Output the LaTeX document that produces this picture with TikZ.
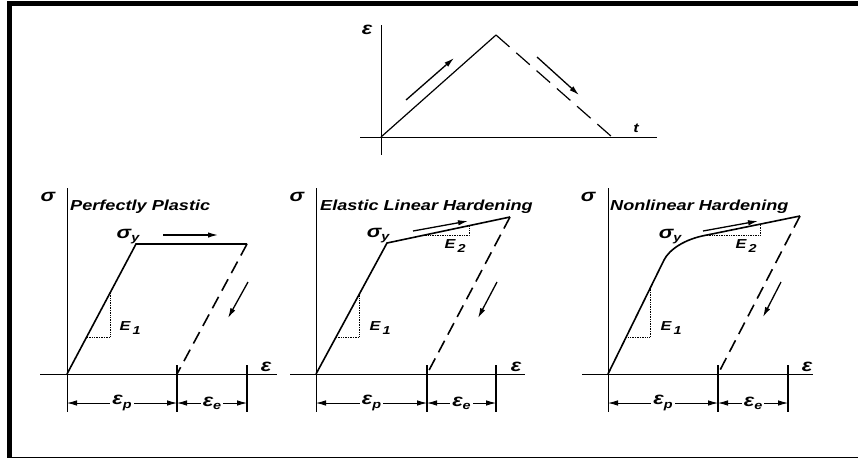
\documentclass[tikz,border=0pt]{standalone}
\usepackage{fontspec}
\setmainfont{Liberation Sans}
\newfontfamily\lblfont[FakeStretch=1.25]{Liberation Sans}
\usetikzlibrary{arrows.meta}

\newcommand\lowsub[1]{\raisebox{-0.45ex}{\fontsize{11.5}{11.5}\selectfont #1}}
\newcommand\gk[1]{{\fontsize{17.5}{17.5}\selectfont #1}}

\begin{document}
\begin{tikzpicture}[x=1pt, y=-1pt, >={Latex[length=10pt,width=5.5pt]},
  lbl/.style={font=\lblfont\bfseries\itshape\fontsize{13}{13}\selectfont, inner sep=0pt},
  ttl/.style={font=\lblfont\bfseries\itshape\fontsize{14.5}{14.5}\selectfont, inner sep=0pt, anchor=west},
  axisline/.style={line width=0.9pt},
  loadline/.style={line width=1.6pt},
  unload/.style={line width=1.6pt, dash pattern=on 13pt off 7pt},
  slope/.style={densely dotted, line width=0.7pt},
  dimtick/.style={line width=1.6pt},
  dimline/.style={<->, line width=0.8pt},
  dirarrow/.style={->, line width=1.3pt}]
  \useasboundingbox (0,0) rectangle (858,459);

  % Frame
  \fill (7,1) rectangle (858,6);
  \fill (7,1) rectangle (12,458);
  \fill (7,456.5) rectangle (858,458);

  % Top: strain history
  \coordinate (hO) at (381,137);
  \coordinate (hP) at (496,35);
  \coordinate (hE) at (612,137);
  \draw[axisline] (381,25) -- (381,155);
  \draw[axisline] (360,137) -- (657,137);
  \node[lbl] (hEps) at (367,30) {\gk{ε}};
  \node[lbl] (hT) at (636,128) {t};
  \draw[line width=1.2pt] (hO) -- (hP);
  \draw[line width=1.2pt, dash pattern=on 18pt off 9pt] (hP) -- (hE);
  \draw[dirarrow] (406,100) -- (454,58);
  \draw[dirarrow] (537,57) -- (579,95);

  % Left: perfectly plastic
  \coordinate (ppO) at (67,374);
  \coordinate (ppY) at (136,244);
  \coordinate (ppE) at (247,244);
  \coordinate (ppU) at (177,374);
  \draw[axisline] (67,188) -- (67,412);
  \draw[axisline] (40,374) -- (277,374);
  \node[lbl] (ppSig) at (48,197) {\gk{σ}};
  \node[ttl] (ppTtl) at (70,207) {Perfectly Plastic};
  \node[lbl] (ppEps) at (266,367) {\gk{ε}};
  \draw[loadline] (ppO) -- (ppY) -- (ppE);
  \draw[unload] (ppE) -- (ppU);
  \node[lbl] (ppSy) at (128,237) {\gk{σ}\lowsub{y}};
  \draw[dirarrow] (163,235) -- (218,235);
  \draw[dirarrow] (248,282) -- (228,318);
  \draw[slope] (110,293) -- (110,337) -- (86.6,337);
  \node[lbl] (ppE1) at (130,328) {E\,\lowsub{1}};
  \draw[dimtick] (177,365) -- (177,412);
  \draw[dimtick] (247,365) -- (247,412);
  \draw[dimline] (67,403) -- node[lbl, fill=white, inner sep=2pt] (ppEp) {\gk{ε}\lowsub{p}} (177,403);
  \draw[dimline] (177,403) -- node[lbl, fill=white, inner sep=2pt] (ppEe) {\gk{ε}\lowsub{e}} (247,403);

  % Middle: elastic linear hardening
  \coordinate (lhO) at (316,374);
  \coordinate (lhY) at (387,243);
  \coordinate (lhE) at (510,217);
  \coordinate (lhU) at (427,374);
  \draw[axisline] (316,188) -- (316,412);
  \draw[axisline] (290,374) -- (525,374);
  \node[lbl] (lhSig) at (297,197) {\gk{σ}};
  \node[ttl] (lhTtl) at (320,207) {Elastic Linear Hardening};
  \node[lbl] (lhEps) at (516,367) {\gk{ε}};
  \draw[loadline] (lhO) -- (lhY) -- (lhE);
  \draw[unload] (lhE) -- (lhU);
  \node[lbl] (lhSy) at (378,236) {\gk{σ}\lowsub{y}};
  \draw[dirarrow] (413,231) -- (468,221);
  \draw[dirarrow] (497,282) -- (478,318);
  \draw[slope] (359,294.7) -- (359,337) -- (336,337);
  \draw[slope] (423,235.5) -- (469,235.5) -- (469,225.7);
  \node[lbl] (lhE1) at (380,328) {E\,\lowsub{1}};
  \node[lbl] (lhE2) at (455,246) {E\,\lowsub{2}};
  \draw[dimtick] (427,365) -- (427,412);
  \draw[dimtick] (496,365) -- (496,412);
  \draw[dimline] (316,403) -- node[lbl, fill=white, inner sep=2pt] (lhEp) {\gk{ε}\lowsub{p}} (427,403);
  \draw[dimline] (427,403) -- node[lbl, fill=white, inner sep=2pt] (lhEe) {\gk{ε}\lowsub{e}} (496,403);

  % Right: nonlinear hardening
  \coordinate (nhO) at (608,374);
  \coordinate (nhK) at (664,260);
  \coordinate (nhY) at (707,235);
  \coordinate (nhE) at (800,216);
  \coordinate (nhU) at (718,374);
  \draw[axisline] (608,188) -- (608,412);
  \draw[axisline] (582,374) -- (813,374);
  \node[lbl] (nhSig) at (588,197) {\gk{σ}};
  \node[ttl] (nhTtl) at (610,207) {Nonlinear Hardening};
  \node[lbl] (nhEps) at (807,367) {\gk{ε}};
  \draw[loadline] (nhO) -- (nhK) .. controls (669,250) and (684,239) .. (nhY) -- (nhE);
  \draw[unload] (nhE) -- (nhU);
  \node[lbl] (nhSy) at (670,237) {\gk{σ}\lowsub{y}};
  \draw[dirarrow] (703,231) -- (758,221);
  \draw[dirarrow] (781,282) -- (763,317);
  \draw[slope] (650,288.5) -- (650,337) -- (626,337);
  \draw[slope] (707,235.5) -- (760,235.5) -- (760,224.2);
  \node[lbl] (nhE1) at (671,328) {E\,\lowsub{1}};
  \node[lbl] (nhE2) at (746,246) {E\,\lowsub{2}};
  \draw[dimtick] (718,365) -- (718,412);
  \draw[dimtick] (788,365) -- (788,412);
  \draw[dimline] (608,403) -- node[lbl, fill=white, inner sep=2pt] (nhEp) {\gk{ε}\lowsub{p}} (718,403);
  \draw[dimline] (718,403) -- node[lbl, fill=white, inner sep=2pt] (nhEe) {\gk{ε}\lowsub{e}} (788,403);
\end{tikzpicture}
\end{document}
